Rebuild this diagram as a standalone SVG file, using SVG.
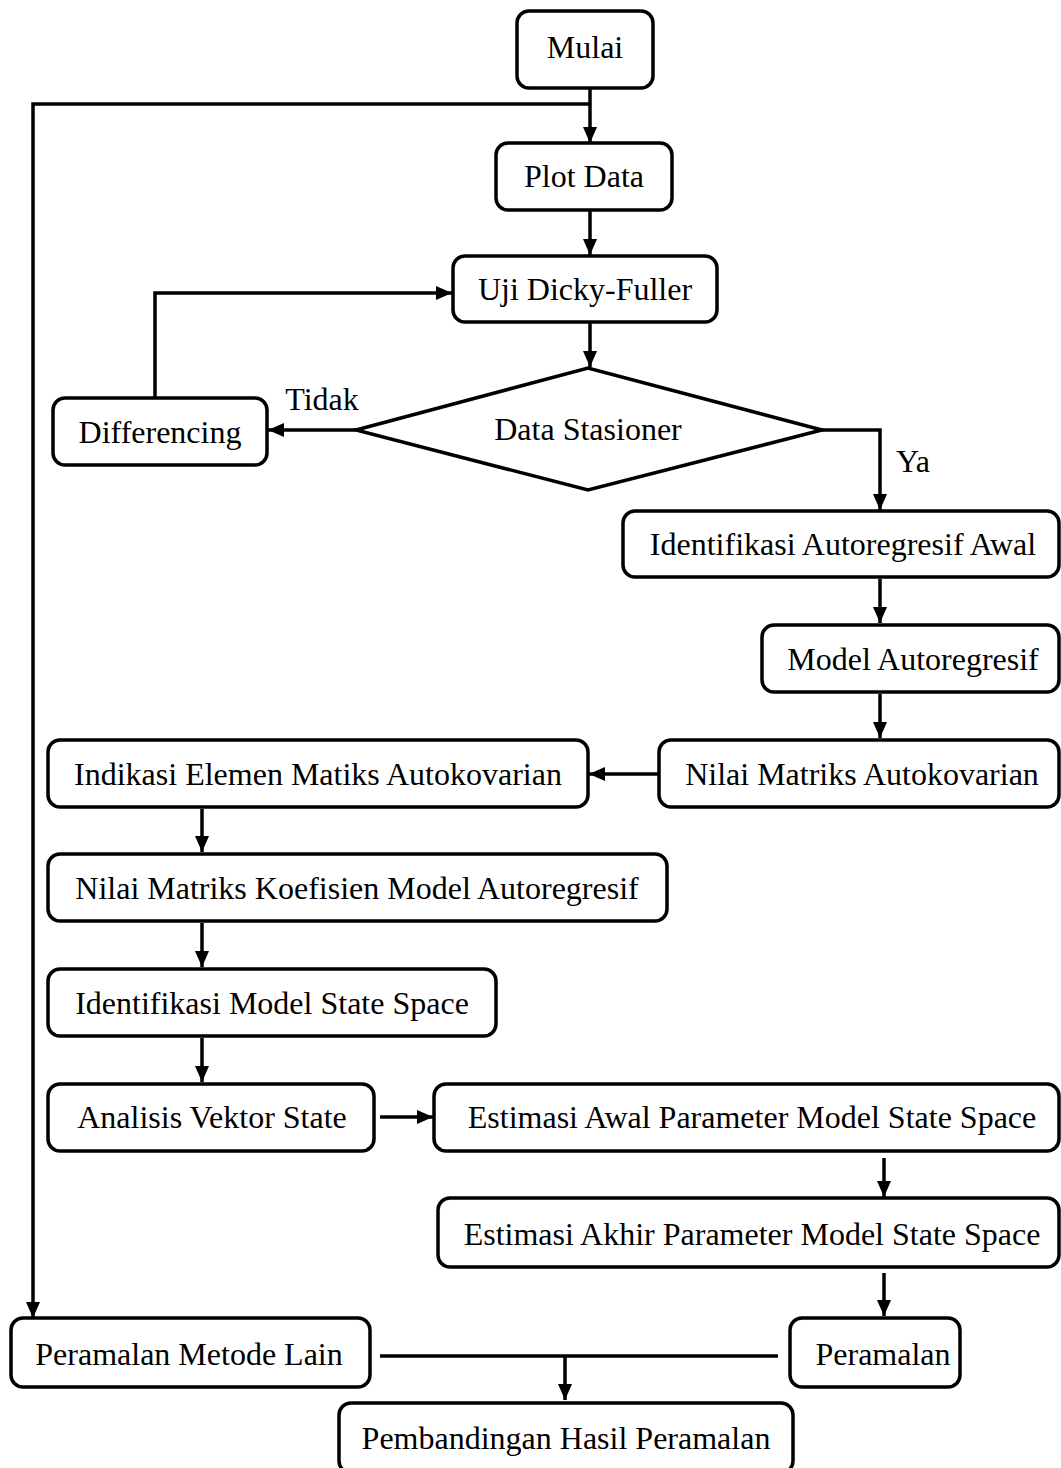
<svg xmlns="http://www.w3.org/2000/svg" width="1061" height="1468" viewBox="0 0 1061 1468">
<style>
.box{fill:#fff;stroke:#000;stroke-width:3.5}
.lbl{font-family:"Liberation Serif","Times New Roman",serif;font-size:32px;fill:#000;text-anchor:middle}
.c{fill:none;stroke:#000;stroke-width:3.5}
</style>
<defs>
<marker id="ah" markerUnits="userSpaceOnUse" markerWidth="16" markerHeight="14" refX="16" refY="7" orient="auto">
<path d="M0,0 L16,7 L0,14 z" fill="#000"/>
</marker>
</defs>
<rect width="1061" height="1468" fill="#fff"/>
<g id="connectors">
<path class="c" d="M590,88 L590,143" marker-end="url(#ah)"/>
<path class="c" d="M590,104 L33,104 L33,1318" marker-end="url(#ah)"/>
<path class="c" d="M590,210 L590,255" marker-end="url(#ah)"/>
<path class="c" d="M590,322 L590,367" marker-end="url(#ah)"/>
<path class="c" d="M356,430 L268,430" marker-end="url(#ah)"/>
<path class="c" d="M155,398 L155,293 L452,293" marker-end="url(#ah)"/>
<path class="c" d="M822,430 L880,430 L880,510" marker-end="url(#ah)"/>
<path class="c" d="M880,579 L880,623" marker-end="url(#ah)"/>
<path class="c" d="M880,694 L880,738" marker-end="url(#ah)"/>
<path class="c" d="M659,774 L589,774" marker-end="url(#ah)"/>
<path class="c" d="M202,809 L202,852" marker-end="url(#ah)"/>
<path class="c" d="M202,923 L202,967" marker-end="url(#ah)"/>
<path class="c" d="M202,1038 L202,1082" marker-end="url(#ah)"/>
<path class="c" d="M380,1117 L433,1117" marker-end="url(#ah)"/>
<path class="c" d="M884,1158 L884,1197" marker-end="url(#ah)"/>
<path class="c" d="M884,1273 L884,1316" marker-end="url(#ah)"/>
<path class="c" d="M380,1356 L778,1356"/>
<path class="c" d="M565,1356 L565,1400" marker-end="url(#ah)"/>
<text class="lbl" x="322" y="410">Tidak</text>
<text class="lbl" x="913" y="472">Ya</text>
</g>
<g id="mulai"><rect class="box" x="517" y="11" width="136" height="77" rx="12"/><text class="lbl" x="585" y="58">Mulai</text></g>
<g id="plot"><rect class="box" x="496" y="143" width="176" height="67" rx="12"/><text class="lbl" x="584" y="187">Plot Data</text></g>
<g id="uji"><rect class="box" x="453" y="256" width="264" height="66" rx="12"/><text class="lbl" x="585" y="300">Uji Dicky-Fuller</text></g>
<g id="stasioner"><polygon class="box" points="356,430 588,368 822,430 588,490"/><text class="lbl" x="588" y="440">Data Stasioner</text></g>
<g id="differencing"><rect class="box" x="53" y="398" width="214" height="67" rx="12"/><text class="lbl" x="160" y="443">Differencing</text></g>
<g id="identAR"><rect class="box" x="623" y="511" width="436" height="66" rx="12"/><text class="lbl" x="843" y="555">Identifikasi Autoregresif Awal</text></g>
<g id="modelAR"><rect class="box" x="762" y="625" width="297" height="67" rx="12"/><text class="lbl" x="913" y="670">Model Autoregresif</text></g>
<g id="nilaiAK"><rect class="box" x="659" y="740" width="400" height="67" rx="12"/><text class="lbl" x="862" y="785">Nilai Matriks Autokovarian</text></g>
<g id="indikasi"><rect class="box" x="48" y="740" width="540" height="67" rx="12"/><text class="lbl" x="318" y="785">Indikasi Elemen Matiks Autokovarian</text></g>
<g id="koef"><rect class="box" x="48" y="854" width="619" height="67" rx="12"/><text class="lbl" x="357" y="899">Nilai Matriks Koefisien Model Autoregresif</text></g>
<g id="identSS"><rect class="box" x="48" y="969" width="448" height="67" rx="12"/><text class="lbl" x="272" y="1014">Identifikasi Model State Space</text></g>
<g id="analisis"><rect class="box" x="48" y="1084" width="326" height="67" rx="12"/><text class="lbl" x="212" y="1128">Analisis Vektor State</text></g>
<g id="estAwal"><rect class="box" x="434" y="1084" width="625" height="67" rx="12"/><text class="lbl" x="752" y="1128">Estimasi Awal Parameter Model State Space</text></g>
<g id="estAkhir"><rect class="box" x="438" y="1198" width="621" height="69" rx="12"/><text class="lbl" x="752" y="1245">Estimasi Akhir Parameter Model State Space</text></g>
<g id="peramalan"><rect class="box" x="790" y="1318" width="170" height="69" rx="12"/><text class="lbl" x="883" y="1365">Peramalan</text></g>
<g id="lain"><rect class="box" x="11" y="1318" width="359" height="69" rx="12"/><text class="lbl" x="189" y="1365">Peramalan Metode Lain</text></g>
<g id="banding"><rect class="box" x="339" y="1403" width="454" height="70" rx="12"/><text class="lbl" x="566" y="1449">Pembandingan Hasil Peramalan</text></g>
</svg>
